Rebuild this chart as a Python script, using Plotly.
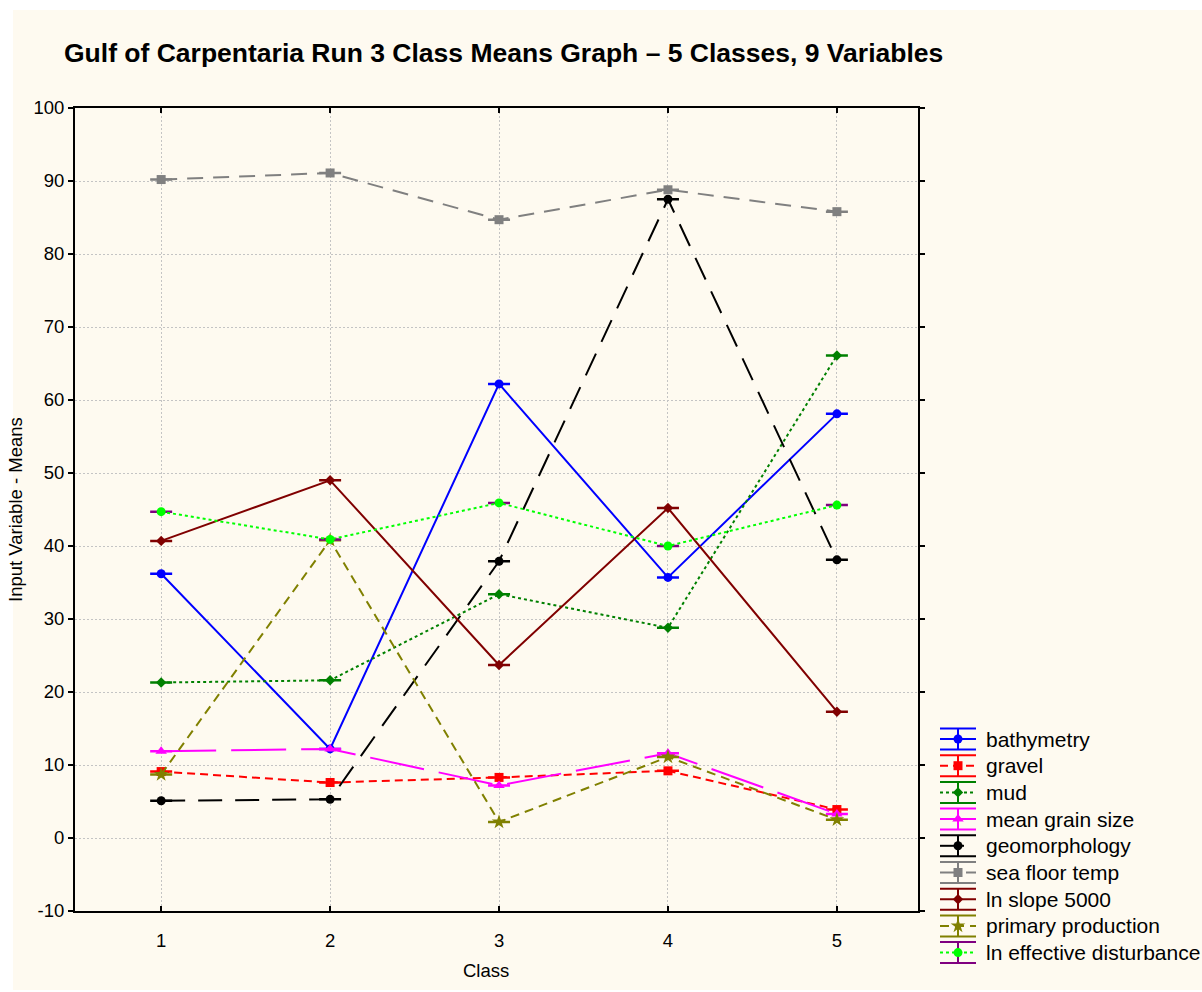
import plotly.graph_objects as go

# Class means for each input variable (classes 1..5)
classes = [1, 2, 3, 4, 5]
bathymetry = [36.2, 12.2, 62.2, 35.7, 58.1]
gravel = [9.1, 7.6, 8.3, 9.2, 3.9]
mud = [21.3, 21.6, 33.4, 28.8, 66.1]
mean_grain_size = [11.9, 12.2, 7.2, 11.6, 3.3]
geomorphology = [5.1, 5.3, 37.9, 87.5, 38.1]
sea_floor_temp = [90.2, 91.1, 84.7, 88.8, 85.8]
ln_slope_5000 = [40.7, 49.0, 23.7, 45.2, 17.3]
primary_production = [8.7, 40.8, 2.2, 11.1, 2.5]
ln_effective_disturbance = [44.7, 40.9, 45.9, 40.0, 45.6]

y_ticks = [-10, 0, 10, 20, 30, 40, 50, 60, 70, 80, 90, 100]
y_tick_text = ["-10", "0", "10", "20", "30", "40", "50", "60", "70", "80", "90", "100"]

series = [
    # name, values, line colour, dash, marker symbol, marker size, cap colour
    ("bathymetry", bathymetry, "#0000FF", "solid", "circle", 9, "#0000FF"),
    ("gravel", gravel, "#FF0000", "8px,5px", "square", 9, "#FF0000"),
    ("mud", mud, "#008000", "3px,3px", "diamond", 8, "#008000"),
    ("mean grain size", mean_grain_size, "#FF00FF", "55px,15px", "triangle-up", 10, "#FF00FF"),
    ("geomorphology", geomorphology, "#000000", "24px,13px", "circle", 9, "#000000"),
    ("sea floor temp", sea_floor_temp, "#808080", "16px,10px", "square", 9, "#808080"),
    ("ln slope 5000", ln_slope_5000, "#800000", "solid", "diamond", 8, "#800000"),
    ("primary production", primary_production, "#808000", "9px,6px", "star", 11, "#808000"),
    ("ln effective disturbance", ln_effective_disturbance, "#00FF00", "3px,3px", "circle", 9, "#800080"),
]

W, H = 1202, 992
cream = "#FEFAF0"
font_family = "Liberation Sans, Arial, sans-serif"

fig = go.Figure()

for name, vals, color, dash, sym, msize, cap in series:
    fig.add_trace(go.Scatter(
        x=classes, y=vals, mode="lines+markers", name=name,
        line=dict(color=color, width=2, dash=dash),
        marker=dict(symbol=sym, size=msize, color=color, line=dict(width=0)),
        error_y=dict(type="data", array=[0] * len(vals), visible=True,
                     color=cap, thickness=2.5, width=11),
        showlegend=False, xaxis="x", yaxis="y",
    ))

# Hand-built legend on its own axes: sample line, marker and whisker per row
row0, row_step = 19.0, 26.7
for i, (name, vals, color, dash, sym, msize, cap) in enumerate(series):
    yc = row0 + i * row_step
    fig.add_trace(go.Scatter(
        x=[10, 46], y=[yc, yc], mode="lines",
        line=dict(color=color, width=2, dash=dash),
        showlegend=False, hoverinfo="skip", xaxis="x2", yaxis="y2",
    ))
    fig.add_trace(go.Scatter(
        x=[28], y=[yc], mode="markers",
        marker=dict(symbol=sym, size=msize, color=color, line=dict(width=0)),
        error_y=dict(type="data", array=[10.5], visible=True,
                     color=cap, thickness=2, width=18),
        showlegend=False, hoverinfo="skip", xaxis="x2", yaxis="y2",
    ))
    fig.add_annotation(
        x=54, y=yc, xref="x2", yref="y2", text=name, showarrow=False,
        xanchor="left", yanchor="middle",
        font=dict(family=font_family, size=21, color="black"),
    )

px_x = lambda p: p / W
px_y = lambda p: 1 - p / H

axis_common = dict(
    showline=True, linecolor="black", linewidth=2, mirror="ticks",
    showgrid=True, gridcolor="#C4C4C4", gridwidth=1, griddash="2px,2px",
    zeroline=False, tickcolor="black", ticklen=5, tickwidth=2,
    automargin=False,
    tickfont=dict(family=font_family, size=18.5, color="black"),
)

fig.update_layout(
    width=W, height=H,
    margin=dict(l=0, r=0, t=0, b=0, autoexpand=False),
    paper_bgcolor="white",
    plot_bgcolor="white",
    xaxis=dict(
        domain=[px_x(75), px_x(918)], range=[0.49, 5.48],
        tickvals=classes, ticks="inside", ticklabelstandoff=12,
        anchor="y", **axis_common,
    ),
    yaxis=dict(
        domain=[px_y(911), px_y(108)], range=[-10, 100],
        tickvals=y_ticks, ticktext=y_tick_text, ticks="outside", anchor="x",
        **axis_common,
    ),
    xaxis2=dict(domain=[px_x(930), 1.0], range=[0, 272], visible=False,
                fixedrange=True, anchor="y2", automargin=False),
    yaxis2=dict(domain=[px_y(970), px_y(720)], range=[250, 0], visible=False,
                fixedrange=True, anchor="x2", automargin=False),
    shapes=[dict(type="rect", xref="paper", yref="paper", layer="below",
                 x0=px_x(13), x1=1.0, y0=px_y(990), y1=px_y(10),
                 fillcolor=cream, line=dict(width=0))],
    annotations=list(fig.layout.annotations) + [
        dict(text="<b>Gulf of Carpentaria Run 3 Class Means Graph \u2013 5 Classes, 9 Variables</b>",
             x=px_x(503), y=px_y(53), xref="paper", yref="paper", showarrow=False,
             xanchor="center", yanchor="middle",
             font=dict(family=font_family, size=26.5, color="black")),
        dict(text="Input Variable - Means", x=px_x(15), y=px_y(510), xref="paper", yref="paper",
             showarrow=False, textangle=-90, xanchor="center", yanchor="middle",
             font=dict(family=font_family, size=18.5, color="black")),
        dict(text="Class", x=px_x(486), y=px_y(970), xref="paper", yref="paper",
             showarrow=False, xanchor="center", yanchor="middle",
             font=dict(family=font_family, size=18.5, color="black")),
    ],
)

fig.write_html("out.html")
